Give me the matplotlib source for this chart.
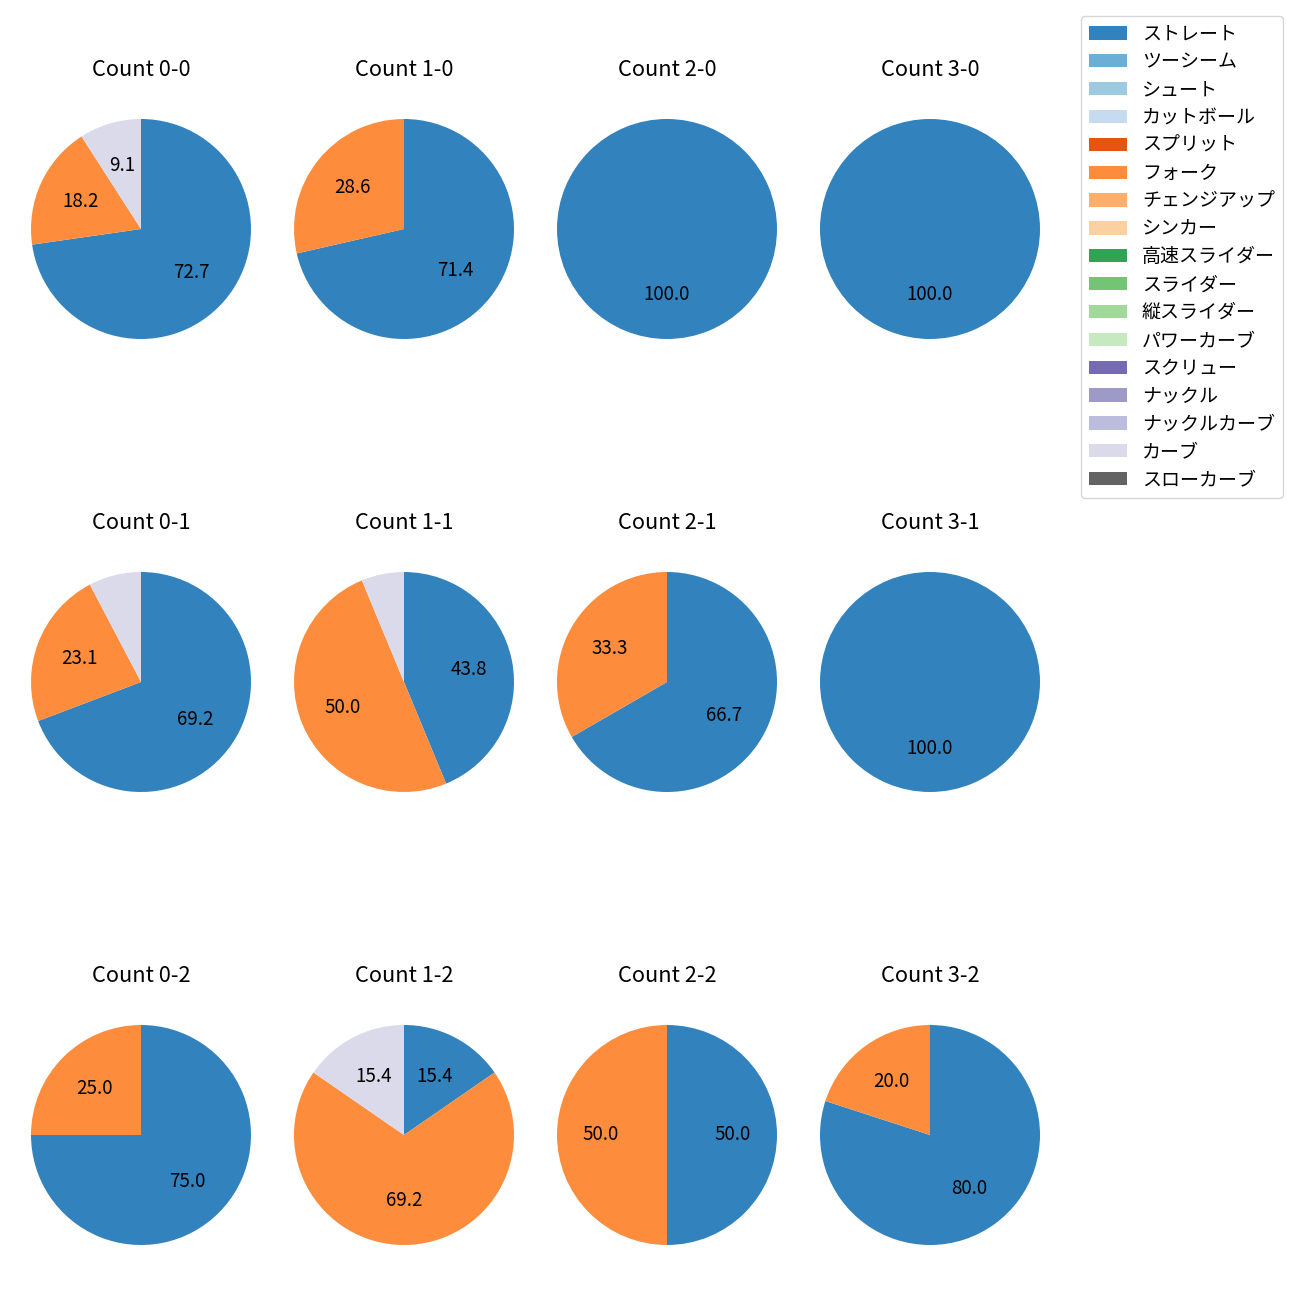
import numpy as np
import matplotlib
matplotlib.use('Agg')
import matplotlib.pyplot as plt
from matplotlib.patches import Patch

plt.rcParams['font.family'] = ['Noto Sans CJK JP', 'DejaVu Sans']

pitch_types = ['ストレート', 'ツーシーム', 'シュート', 'カットボール', 'スプリット',
               'フォーク', 'チェンジアップ', 'シンカー', '高速スライダー', 'スライダー',
               '縦スライダー', 'パワーカーブ', 'スクリュー', 'ナックル', 'ナックルカーブ',
               'カーブ', 'スローカーブ']
colors = plt.cm.tab20c(np.arange(len(pitch_types)))

# pitch counts per ball-strike count: (straight, fork, curve)
counts = {
    '0-0': [8, 2, 1],
    '1-0': [5, 2, 0],
    '2-0': [3, 0, 0],
    '3-0': [1, 0, 0],
    '0-1': [9, 3, 1],
    '1-1': [7, 8, 1],
    '2-1': [4, 2, 0],
    '3-1': [2, 0, 0],
    '0-2': [6, 2, 0],
    '1-2': [2, 9, 2],
    '2-2': [1, 1, 0],
    '3-2': [4, 1, 0],
}
used_types = ['ストレート', 'フォーク', 'カーブ']

row_centers = [229, 682, 1135]
col_centers = [141, 404, 667, 930]
W = H = 1300
side = 275

fig, axes = plt.subplots(3, 4, figsize=(13, 13))
for r, strikes in enumerate(['0', '1', '2']):
    for c, balls in enumerate(['0', '1', '2', '3']):
        ax = axes[r, c]
        key = f'{balls}-{strikes}'
        vals = np.array(counts[key], dtype=float)
        mask = vals > 0
        cols = [colors[pitch_types.index(t)] for t, m in zip(used_types, mask) if m]
        ax.pie(vals[mask], colors=cols, startangle=90, counterclock=False,
               autopct=lambda p: f'{p:.1f}' if p >= 8 else '',
               textprops={'fontsize': 13.5})
        ax.set_title(f'Count {key}', fontsize=15.7, pad=11)
        cx, cy = col_centers[c], row_centers[r]
        ax.set_position([(cx - side / 2) / W, 1 - (cy + side / 2) / H, side / W, side / H])

handles = [Patch(facecolor=colors[i], label=t) for i, t in enumerate(pitch_types)]
fig.legend(handles=handles, loc='upper right', bbox_to_anchor=(0.994, 0.995),
           fontsize=13.7, labelspacing=0.36)

plt.savefig('out.png', dpi=100)
